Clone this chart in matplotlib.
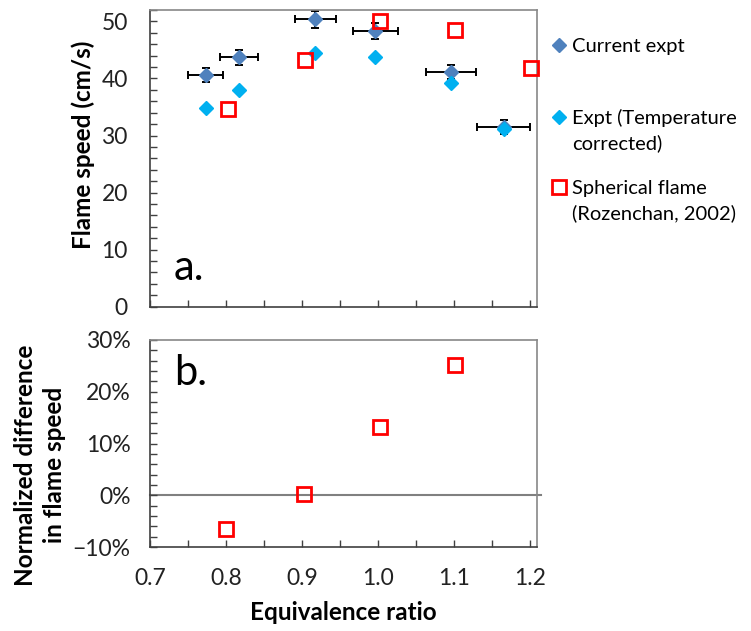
import matplotlib
matplotlib.use("Agg")
import matplotlib.pyplot as plt
from matplotlib.lines import Line2D
from matplotlib.ticker import MultipleLocator, PercentFormatter

plt.rcParams["font.family"] = ["Lato", "DejaVu Sans"]

# flame speed measurements, current experiment (with x/y uncertainties)
phi_expt = [0.773, 0.8175, 0.9175, 0.9965, 1.096, 1.165]
phi_err = [0.023, 0.025, 0.027, 0.030, 0.033, 0.035]
speed_expt = [40.6, 43.7, 50.4, 48.4, 41.1, 31.5]
speed_err = [1.3, 1.3, 1.5, 1.4, 1.2, 1.2]

# temperature corrected values
speed_corr = [34.8, 37.9, 44.4, 43.8, 39.2, 31.2]

# spherical flame data (Rozenchan, 2002)
phi_sph = [0.803, 0.9035, 1.003, 1.1017, 1.2013]
speed_sph = [34.7, 43.2, 50.0, 48.5, 41.9]

# normalized difference in flame speed
phi_diff = [0.8004, 0.902, 1.003, 1.1017]
norm_diff = [-0.065, 0.003, 0.132, 0.252]

DARK_BLUE = "#4F81BD"
LIGHT_BLUE = "#00B0F0"
RED = "#FF0000"
TICK_FS = 16.5
LABEL_FS = 17.5
LEGEND_FS = 14.5

W, H = 751, 631
fig = plt.figure(figsize=(W / 100, H / 100), dpi=100)


def rect(left, top, right, bottom):
    return [left / W, 1 - bottom / H, (right - left) / W, (bottom - top) / H]


ax1 = fig.add_axes(rect(150, 10, 537, 306.7))
ax2 = fig.add_axes(rect(150, 340, 537, 547))

# top panel: flame speed
ax1.errorbar(phi_expt, speed_expt, xerr=phi_err, yerr=speed_err,
             fmt="D", color=DARK_BLUE, ms=7.5, ecolor="black", elinewidth=1.4,
             capsize=3, capthick=1.4, zorder=2)
ax1.plot(phi_expt, speed_corr, "D", color=LIGHT_BLUE, ms=7.5, zorder=3)
ax1.plot(phi_sph, speed_sph, "s", mfc="none", mec=RED, mew=2, ms=9.5,
         zorder=4, clip_on=False)
ax1.set_ylim(0, 52)
ax1.yaxis.set_major_locator(MultipleLocator(10))
ax1.yaxis.set_minor_locator(MultipleLocator(2))
ax1.tick_params(axis="x", labelbottom=False)
ax1.text(0.062, 0.13, "a.", transform=ax1.transAxes, fontsize=30,
         va="center")
fig.text(83 / W, 1 - 145 / H, "Flame speed (cm/s)", rotation=90,
         ha="center", va="center", fontsize=LABEL_FS, fontweight="bold")

# bottom panel: normalized difference
ax2.axhline(0, color="#808080", lw=1.5, zorder=1, clip_on=False,
            xmax=1.01)
ax2.plot(phi_diff, norm_diff, "s", mfc="none", mec=RED, mew=2, ms=9.5,
         zorder=3)
ax2.set_ylim(-0.1, 0.3)
ax2.yaxis.set_major_locator(MultipleLocator(0.1))
ax2.yaxis.set_minor_locator(MultipleLocator(0.02))
ax2.yaxis.set_major_formatter(PercentFormatter(1.0, decimals=0))
ax2.text(0.062, 0.84, "b.", transform=ax2.transAxes, fontsize=30,
         va="center")
fig.text(343 / W, 1 - 612 / H, "Equivalence ratio", ha="center",
         va="center", fontsize=LABEL_FS, fontweight="bold")
fig.text(40 / W, 1 - 465 / H, "Normalized difference\nin flame speed",
         rotation=90, ha="center", va="center", fontsize=LABEL_FS,
         fontweight="bold", linespacing=1.3)

for ax in (ax1, ax2):
    ax.set_xlim(0.7, 1.209)
    ax.xaxis.set_major_locator(MultipleLocator(0.1))
    ax.xaxis.set_minor_locator(MultipleLocator(0.05))
    ax.xaxis.set_major_formatter(lambda v, pos: f"{v:.1f}")
    ax.tick_params(which="both", direction="in", length=5, width=1,
                   color="#404040", labelsize=TICK_FS, labelcolor="#222222")
    ax.tick_params(axis="x", which="major", pad=15)
    for side in ("left", "bottom"):
        ax.spines[side].set_color("#404040")
        ax.spines[side].set_linewidth(1.2)
    for side in ("top", "right"):
        ax.spines[side].set_color("#888888")
        ax.spines[side].set_linewidth(1.2)

ax1.tick_params(axis="y", which="major", pad=16)
ax2.tick_params(axis="y", which="major", pad=14)

handles = [
    Line2D([], [], ls="none", marker="D", color=DARK_BLUE, ms=7.5),
    Line2D([], [], ls="none", marker="D", color=LIGHT_BLUE, ms=7.5),
    Line2D([], [], ls="none", marker="s", mfc="none", mec=RED, mew=2,
           ms=9.5),
]
fig.legend(handles, ["Current expt", "Expt (Temperature", "Spherical flame"],
           loc="upper left", bbox_to_anchor=(541 / W, 1 - 28 / H),
           frameon=False, fontsize=LEGEND_FS, borderpad=0,
           labelspacing=2.65, handlelength=0.8, handletextpad=0.25)
fig.text(572 / W, 1 - 143 / H, "corrected)", fontsize=LEGEND_FS,
         va="center")
fig.text(572 / W, 1 - 213 / H, "(Rozenchan, 2002)", fontsize=LEGEND_FS,
         va="center")

fig.savefig("out.png", dpi=100)
